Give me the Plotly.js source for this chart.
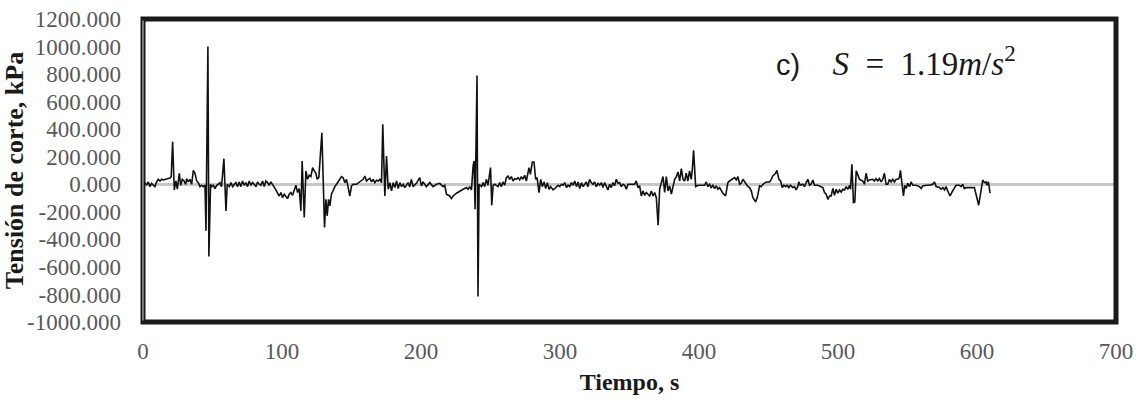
<!DOCTYPE html>
<html>
<head>
<meta charset="utf-8">
<script src="https://cdn.plot.ly/plotly-3.0.1.min.js"></script>
<style>html,body{margin:0;padding:0;background:#fff;}#chart{width:1137px;height:404px;}</style>
</head>
<body>
<div id="chart"></div>
<script>
// Time (s) of each sample
const tiempo = [
0,1.4,2.6,3.8,5.0,6.2,7.4,8.6,9.8,11.0,12.2,13.4,14.6,15.8,17.0,18.2,19.4,20.3,21.3,22.5,
23.7,24.7,26.1,27.1,28.3,29.5,30.7,31.4,32.6,33.8,35.0,36.2,37.4,38.6,39.8,41.0,42.2,43.4,44.6,45.3,
46.7,47.4,48.6,49.4,50.6,51.8,53.0,54.1,55.3,56.5,58.2,59.7,60.6,62.1,63.3,64.5,65.6,66.8,68.0,69.2,
70.4,71.6,72.8,74.0,75.2,76.4,77.6,78.8,80.0,81.2,82.4,83.6,84.8,86.0,87.2,88.4,89.6,90.8,92.0,93.2,
94.4,95.6,96.8,98.0,99.2,100.4,101.6,102.8,104.0,105.2,106.4,107.6,108.8,110.0,111.2,112.4,113.6,114.5,116.0,117.2,
118.4,119.6,120.8,122.0,123.2,124.4,125.3,126.5,128.7,130.6,131.6,132.5,133.5,134.4,135.6,136.8,138.0,139.2,140.4,141.6,
142.8,144.0,145.2,146.4,147.6,148.8,150.0,151.2,153.6,156.0,158.4,159.6,160.8,162.0,163.2,164.4,165.6,166.8,168.0,169.2,
170.4,171.6,172.5,174.0,175.2,176.4,177.6,178.8,180.0,181.2,182.4,183.6,184.8,186.0,187.2,188.4,189.5,190.7,191.9,193.1,
194.3,196.7,199.1,200.3,201.5,203.9,206.3,208.7,211.1,213.5,215.9,217.1,218.3,220.7,221.9,223.1,225.5,227.9,230.3,232.7,
233.9,235.1,236.3,237.5,238.2,238.9,240.3,241.0,241.8,243.5,244.7,245.8,247.0,248.2,250.0,250.9,251.9,253.1,255.4,256.6,
257.8,259.0,260.2,261.4,262.6,263.8,265.0,266.2,267.4,268.6,269.8,271.0,272.2,273.4,274.6,275.8,277.7,278.7,280.1,281.3,
282.5,283.5,284.9,286.1,287.3,288.5,289.7,290.9,292.1,293.3,295.0,296.9,298.6,299.8,301.0,302.2,303.4,304.6,305.8,307.0,
308.2,309.4,310.6,311.8,313.0,314.2,315.4,316.6,317.7,318.9,320.1,321.3,322.5,323.7,324.9,326.1,327.3,328.5,329.7,330.9,
332.1,333.3,334.5,335.7,336.9,338.1,339.3,340.5,341.7,342.9,344.1,345.3,346.5,347.7,348.9,351.3,353.7,354.9,356.1,357.3,
358.5,359.7,360.9,362.1,363.3,364.5,365.7,366.9,368.1,369.3,370.6,371.7,372.9,374.1,375.3,376.5,377.7,378.9,380.1,381.3,
382.5,383.7,384.9,386.1,387.3,388.5,389.7,390.8,392.0,393.2,394.4,395.2,396.1,397.6,399.2,401.6,404.0,405.2,406.4,407.6,
408.8,410.0,411.2,412.4,413.6,414.8,416.0,417.2,419.1,420.8,422.0,423.2,424.4,425.6,426.8,428.0,429.2,430.4,431.6,432.8,
434.0,435.2,436.4,437.6,438.8,440.7,441.9,443.6,444.8,446.0,448.4,450.8,452.0,453.1,455.1,456.0,457.5,458.7,459.9,461.1,
462.3,463.4,464.6,465.8,467.5,468.7,469.9,471.1,471.8,472.8,474.7,475.9,477.1,478.3,479.5,480.7,481.9,483.1,485.5,487.9,
489.1,490.3,491.5,492.7,493.9,495.1,496.3,497.5,498.7,499.9,501.1,502.3,503.5,504.7,505.9,507.1,508.3,509.0,510.0,511.1,
512.1,513.1,514.3,515.5,517.9,519.0,520.2,521.4,522.6,523.8,525.0,526.2,527.4,528.6,529.8,531.0,532.2,533.4,534.6,535.8,
537.0,538.2,539.4,540.6,541.8,543.0,544.2,544.9,546.1,547.1,548.0,549.0,550.2,551.4,552.6,553.8,556.2,558.6,559.8,561.0,
563.4,565.8,568.2,569.4,570.6,573.0,574.2,575.4,576.6,577.7,578.9,580.6,582.5,584.9,587.3,588.5,589.7,590.9,592.1,593.3,
595.7,598.1,599.3,601.2,602.9,604.1,605.3,606.5,607.2,608.2,609.4
];
// Shear stress (kPa)
const tension = [
0,12,-7,17,-17,7,-7,-17,17,36,24,36,31,36,41,46,46,56,309,-41,
24,-36,80,-7,36,24,0,41,17,36,0,101,80,24,12,-17,-7,-17,-7,-338,
1000,-524,0,-17,-7,-31,-7,0,12,-17,186,-193,0,-17,12,-17,0,12,-17,17,
-17,24,-7,12,-17,24,-7,12,0,-17,17,0,-7,24,-17,24,12,-7,17,0,
-17,-41,-65,-85,-60,-97,-72,-85,-104,-72,-60,-80,-48,-7,-60,-31,-193,169,-241,97,
36,65,56,121,97,80,36,50,374,-314,-109,-229,-109,-157,-72,-36,-17,0,24,36,
56,48,12,36,-24,-85,-12,0,0,17,36,60,24,36,43,17,36,12,29,24,
36,12,435,-85,205,-36,12,-48,12,-24,24,-31,12,-17,0,-24,-7,12,-19,36,
-17,7,48,-12,17,-17,12,-17,0,7,-17,-7,-72,-85,-104,-85,-65,-48,-36,-24,
-36,-17,-41,133,169,-181,790,-815,0,-17,12,-17,36,-7,121,-152,-7,0,-17,12,
-17,17,-7,48,60,36,56,24,41,36,48,31,56,36,65,24,121,72,162,162,
36,48,-60,36,-17,17,-31,12,-36,-17,-41,-24,-7,-17,0,-7,12,-24,-7,-17,
12,-7,24,-17,17,-31,12,-17,0,17,-17,36,12,0,17,-17,7,-7,12,-24,
12,-17,-41,0,-24,12,-12,36,7,12,-17,0,-7,-36,0,0,0,24,-24,-12,
-85,-48,-80,-60,-72,-85,-48,-85,-60,-97,-297,-36,12,56,-60,56,-48,-12,-72,-12,
36,56,89,24,113,36,24,80,24,97,36,109,246,-17,-7,-7,-7,17,-17,0,
-24,-7,-31,-12,-36,-24,-48,-65,-85,12,24,31,36,48,31,56,0,7,36,17,
7,-17,-24,-48,-97,-128,-97,-12,-17,0,17,17,36,60,80,101,36,24,-24,-7,
-17,-7,-24,-7,-24,-17,-41,-17,17,-7,0,-17,12,36,-7,0,31,-7,-7,-17,
-24,-60,-72,-109,-85,-85,-31,-80,-36,-65,-41,-56,-36,-41,-17,-36,-7,-36,145,-133,
-128,97,72,36,24,0,80,24,31,36,36,24,41,24,41,17,36,80,0,0,
36,17,36,17,36,36,48,101,-24,-85,-7,-31,7,-17,17,-7,-7,-17,-31,-12,
-7,-7,0,17,-17,-24,-36,-24,-41,-17,-48,-85,-48,-7,-7,-17,0,-31,-24,-24,
-24,-24,-72,-152,-48,31,12,17,-7,17,-65
];
// Axis ticks
const yTickVals = [-1000,-800,-600,-400,-200,0,200,400,600,800,1000,1200];
const yTickText = ["-1000.000","-800.000","-600.000","-400.000","-200.000","0.000","200.000","400.000","600.000","800.000","1000.000","1200.000"];
const xTickVals = [0,100,200,300,400,500,600,700];
const xTickText = ["0","100","200","300","400","500","600","700"];

const serif = "Liberation Serif";

const trace = {
  x: tiempo, y: tension, type: "scatter", mode: "lines",
  line: {color: "#111111", width: 1.6}, hoverinfo: "skip", showlegend: false
};

const layout = {
  width: 1137, height: 404,
  margin: {l: 143, r: 21, t: 19, b: 82},
  paper_bgcolor: "#ffffff", plot_bgcolor: "#ffffff",
  showlegend: false,
  xaxis: {
    range: [0, 700], tickvals: xTickVals, ticktext: xTickText,
    showgrid: false, zeroline: false, showline: false, ticks: "",
    ticklabelstandoff: 13,
    tickfont: {family: serif, size: 23, color: "#595959"},
    title: {text: "<b>Tiempo, s</b>", font: {family: serif, size: 24, color: "#1a1a1a"}, standoff: 10}
  },
  yaxis: {
    range: [-1000, 1200], tickvals: yTickVals, ticktext: yTickText,
    showgrid: false, showline: false, ticks: "",
    zeroline: true, zerolinecolor: "#c8c8c8", zerolinewidth: 3,
    ticklabelstandoff: 21,
    tickfont: {family: serif, size: 23, color: "#595959"},
    title: {text: "<b>Tensión de corte, kPa</b>", font: {family: serif, size: 26, color: "#1a1a1a"}, standoff: 2}
  },
  shapes: [
    {type: "rect", xref: "paper", yref: "paper", x0: 0, x1: 1, y0: 0, y1: 1,
     line: {color: "#1a1a1a", width: 5}, fillcolor: "rgba(0,0,0,0)", layer: "above"},
    {type: "line", xref: "paper", yref: "paper", x0: 0, x1: 0, y0: 0.005, y1: 0.995,
     line: {color: "#d0d0d0", width: 1}, layer: "above"}
  ],
  annotations: [
    {xref: "paper", yref: "paper", x: 0.648, y: 0.86, xanchor: "left", yanchor: "middle", showarrow: false,
     text: "c)    <span style=\"font-family:Liberation Serif;font-size:33px\"><i>S</i>  =  1.19<i>m</i>/<i>s</i><sup>2</sup></span>",
     font: {family: "Liberation Sans", size: 29, color: "#1a1a1a"}}
  ]
};

Plotly.newPlot("chart", [trace], layout, {staticPlot: true, displayModeBar: false});
</script>
</body>
</html>
